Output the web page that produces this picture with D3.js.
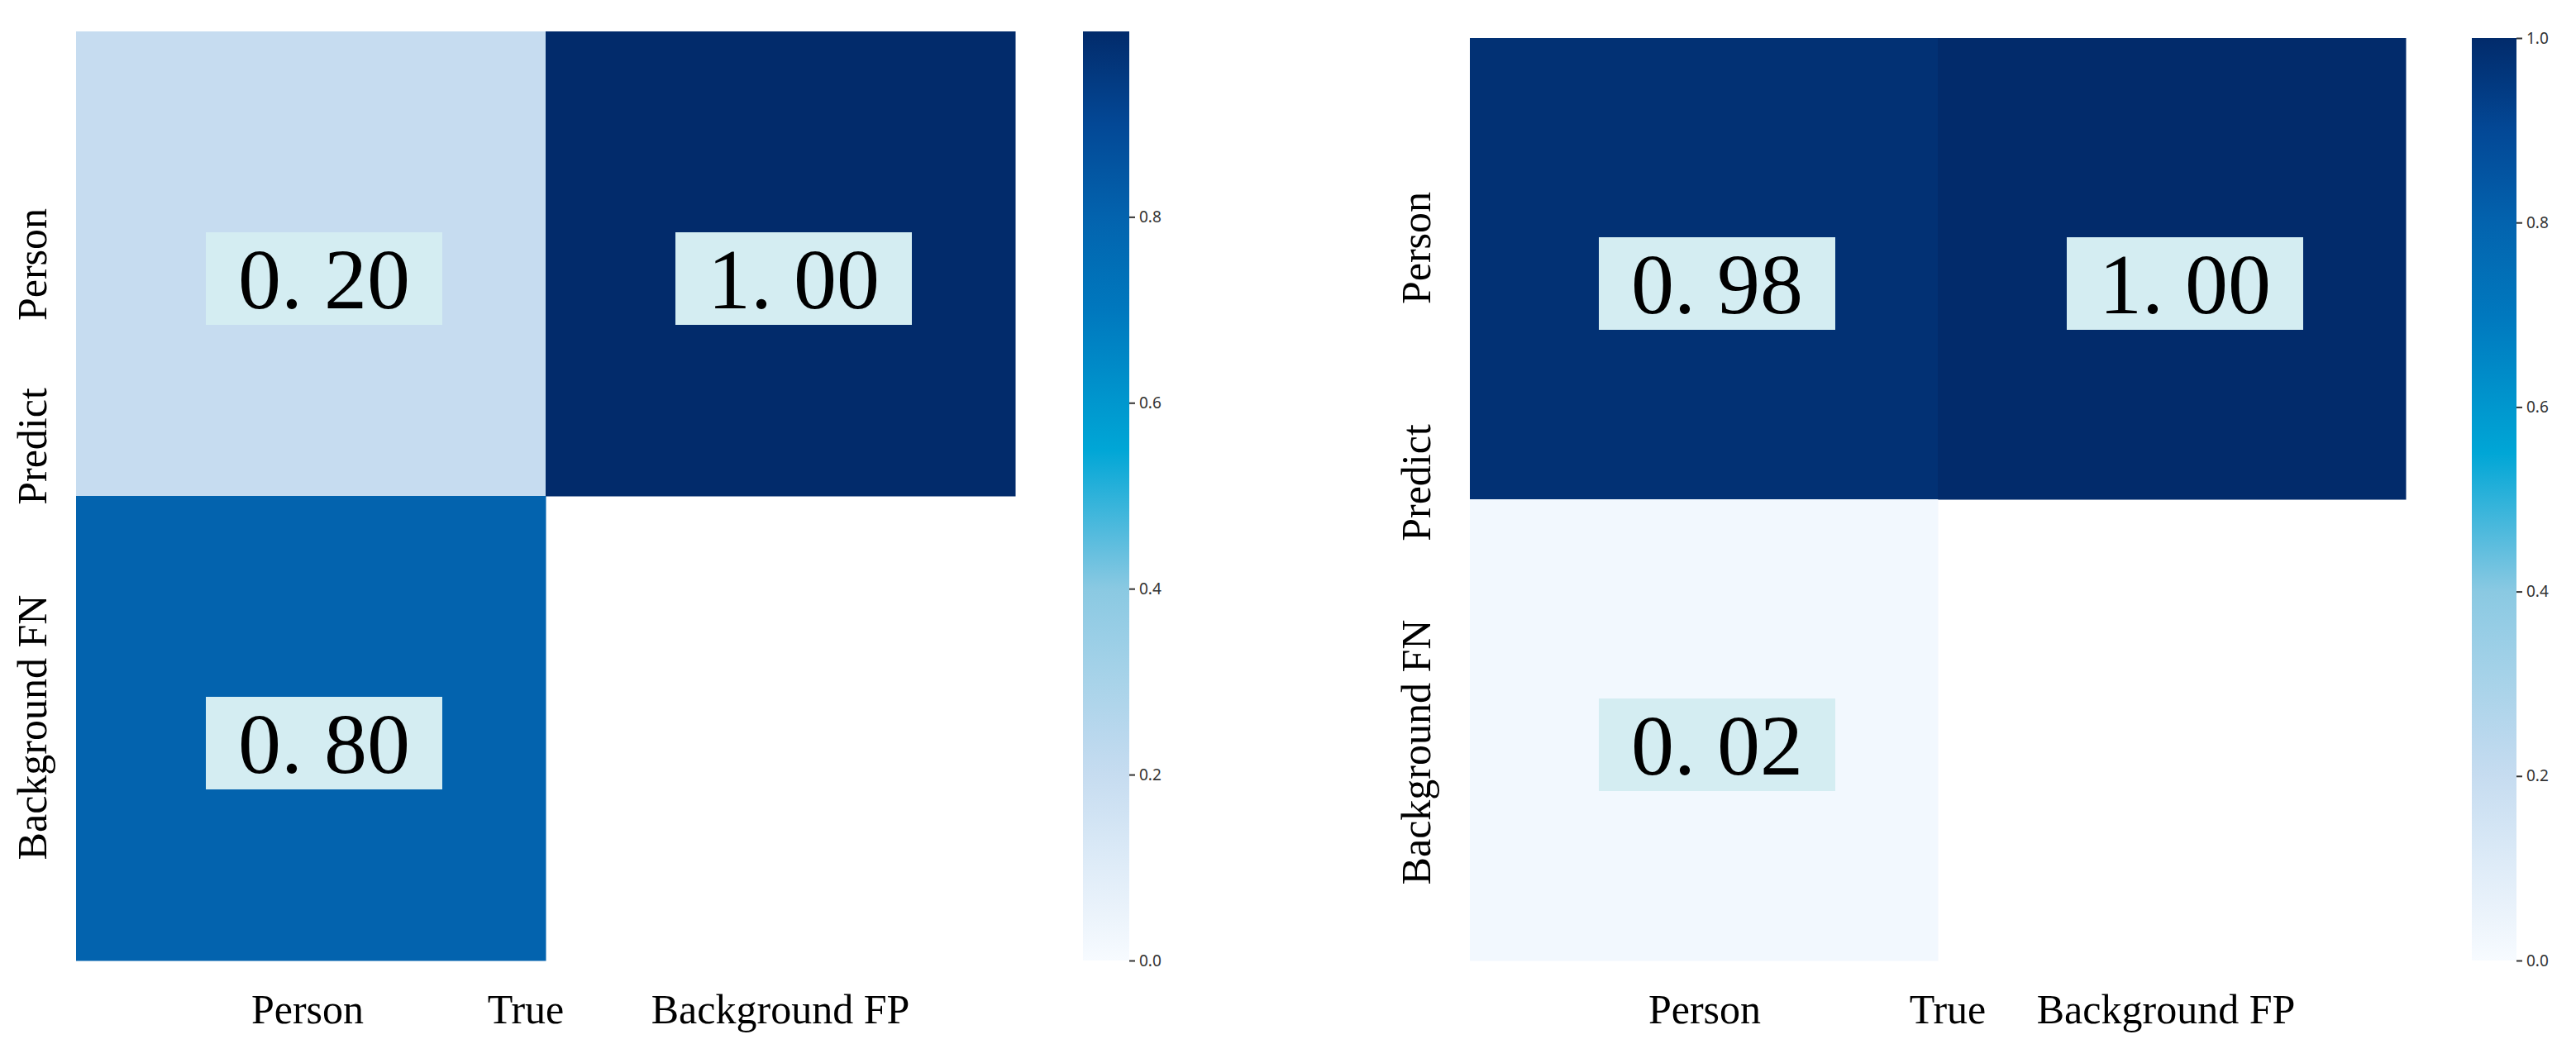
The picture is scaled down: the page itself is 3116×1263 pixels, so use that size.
<!DOCTYPE html>
<html>
<head>
<meta charset="utf-8">
<script src="https://cdn.jsdelivr.net/npm/d3@7"></script>
<style>
body { margin: 0; background: #fff; }
</style>
</head>
<body>
<div id="chart"></div>
<script>
// DATA
const trueLabels = ["Person", "Background FP"]
const predLabels = ["Person", "Background FN"]
const leftValues = [[0.20, 1.00], [0.80, null]]
const rightValues = [[0.98, 1.00], [0.02, null]]
const cbTicksLeft = [0.0, 0.2, 0.4, 0.6, 0.8]
const cbTicksRight = [0.0, 0.2, 0.4, 0.6, 0.8, 1.0]

const width = 3116
const height = 1263

const svg = d3.select("#chart").append("svg").attr("width", width).attr("height", height)

// colour map (blue with cyan middle)
const color = d3.scaleLinear()
    .domain([0, 0.2, 0.4, 0.55, 0.7, 0.8, 0.9, 1.0])
    .range(["#f7fbff", "#c6dcf0", "#8ac9e2", "#00a6d6", "#0078be", "#0363ae", "#034896", "#022b6b"])
    .interpolate(d3.interpolateRgb)

const serif = "'Liberation Serif', 'DejaVu Serif', serif"

function panel(values, box, cb, ticks, cbMax, lab) {
    const x = d3.scaleBand().domain(trueLabels).range([box.x0, box.x1])
    const y = d3.scaleBand().domain(predLabels).range([box.y0, box.y1])
    const g = svg.append("g")

    values.forEach((row, i) => row.forEach((v, j) => {
        if (v === null) return
        g.append("rect")
            .attr("x", x(trueLabels[j])).attr("y", y(predLabels[i]))
            .attr("width", x.bandwidth() + 0.5).attr("height", y.bandwidth() + 0.5)
            .attr("fill", color(v))
    }))
    values.forEach((row, i) => row.forEach((v, j) => {
        if (v === null) return
        const cx = x(trueLabels[j]) + x.bandwidth() / 2 + 16
        const cy = y(predLabels[i]) + y.bandwidth() / 2 + 18
        g.append("rect").attr("x", cx - 143).attr("y", cy - 56)
            .attr("width", 286).attr("height", 112).attr("fill", "#d4edf2")
        g.append("text").attr("x", cx).attr("y", cy + 36)
            .attr("text-anchor", "middle").attr("font-family", serif)
            .attr("font-size", 104).attr("fill", "#000")
            .text(v.toFixed(2).replace(".", ". "))
    }))

    // x labels
    lab.xs.forEach((t, k) => {
        g.append("text").attr("x", t.x).attr("y", 1238).attr("text-anchor", "middle")
            .attr("font-family", serif).attr("font-size", 50).text(t.s)
    })
    // y labels
    lab.ys.forEach(t => {
        g.append("text").attr("transform", `translate(${lab.yx},${t.y}) rotate(-90)`)
            .attr("text-anchor", "middle").attr("font-family", serif)
            .attr("font-size", 50).text(t.s)
    })

    // colourbar
    const grad = "grad" + cb.x
    const lg = svg.append("defs").append("linearGradient").attr("id", grad)
        .attr("x1", 0).attr("y1", 1).attr("x2", 0).attr("y2", 0)
    d3.range(0, 1.0001, 0.05).forEach(t => lg.append("stop").attr("offset", t).attr("stop-color", color(t * cbMax)))
    const cy = d3.scaleLinear().domain([0, cbMax]).range([box.y1, box.y0])
    g.append("rect").attr("x", cb.x).attr("y", box.y0).attr("width", cb.w)
        .attr("height", box.y1 - box.y0).attr("fill", `url(#${grad})`)
    const axis = g.append("g").attr("transform", `translate(${cb.x + cb.w},0)`)
        .call(d3.axisRight(cy).tickValues(ticks).tickFormat(d3.format(".1f")).tickSize(7).tickPadding(5))
    axis.select(".domain").remove()
    axis.selectAll("text").attr("font-family", "'Noto Sans', sans-serif").attr("font-size", 19).attr("fill", "#333")
    axis.selectAll("line").attr("stroke", "#333").attr("stroke-width", 2)
}

panel(leftValues, {x0: 92, x1: 1228, y0: 38, y1: 1162}, {x: 1310, w: 56}, cbTicksLeft, 0.9995,
    {xs: [{x: 372, s: "Person"}, {x: 636, s: "True"}, {x: 944, s: "Background FP"}], yx: 56,
     ys: [{y: 320, s: "Person"}, {y: 540, s: "Predict"}, {y: 880, s: "Background FN"}]})
panel(rightValues, {x0: 1778, x1: 2910, y0: 46, y1: 1162}, {x: 2990, w: 54}, cbTicksRight, 1.0,
    {xs: [{x: 2062, s: "Person"}, {x: 2356, s: "True"}, {x: 2620, s: "Background FP"}], yx: 1730,
     ys: [{y: 300, s: "Person"}, {y: 584, s: "Predict"}, {y: 910, s: "Background FN"}]})
</script>
</body>
</html>
